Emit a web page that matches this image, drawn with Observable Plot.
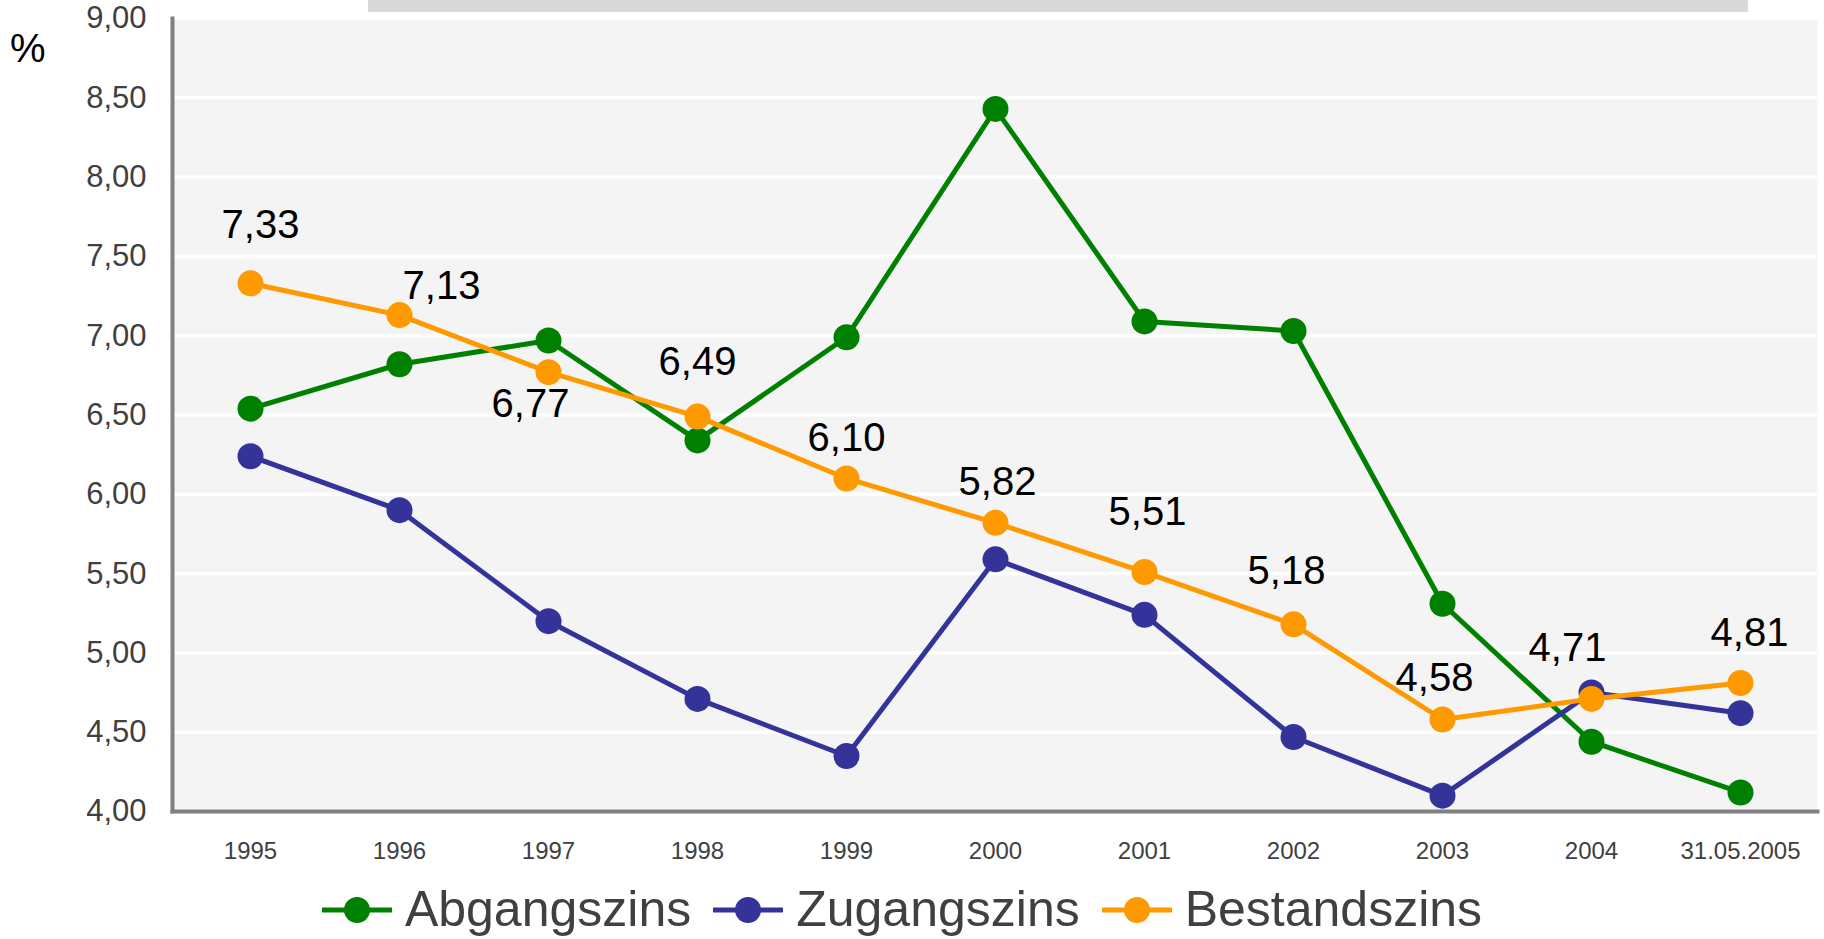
<!DOCTYPE html>
<html>
<head>
<meta charset="utf-8">
<script src="https://cdn.jsdelivr.net/npm/d3@7"></script>
<script src="https://cdn.jsdelivr.net/npm/@observablehq/plot@0.6"></script>
<style>
  html, body { margin: 0; padding: 0; background: #ffffff; }
  body { width: 1824px; height: 939px; position: relative; overflow: hidden; font-family: "Liberation Sans", Arial, sans-serif; }
  #topbar { position: absolute; left: 368px; top: 0; width: 1380px; height: 12px; background: #d9d9d9; }
  #unit { position: absolute; left: 10px; top: 28px; font-size: 40px; color: #000; line-height: 1; }
  #chart svg { display: block; }
  #legend { display: flex; justify-content: center; align-items: center; height: 59px; padding-right: 20px; }
  .item { display: flex; align-items: center; margin: 0 11px; }
  .item span { font-size: 50px; color: #404040; line-height: 59px; margin-left: 13px; }
</style>
</head>
<body>
<div id="chart"></div>
<div id="legend"></div>
<div id="topbar"></div>
<div id="unit">%</div>
<script>
const categories = ["1995","1996","1997","1998","1999","2000","2001","2002","2003","2004","31.05.2005"];
const seriesNames = ["Abgangszins","Zugangszins","Bestandszins"];
const abgangszins = [6.54, 6.82, 6.97, 6.34, 6.99, 8.43, 7.09, 7.03, 5.31, 4.44, 4.12];
const zugangszins = [6.24, 5.90, 5.20, 4.71, 4.35, 5.59, 5.24, 4.47, 4.10, 4.75, 4.62];
const bestandszins = [7.33, 7.13, 6.77, 6.49, 6.10, 5.82, 5.51, 5.18, 4.58, 4.71, 4.81];
const yTicks = [4.0, 4.5, 5.0, 5.5, 6.0, 6.5, 7.0, 7.5, 8.0, 8.5, 9.0];

// layout: manual label nudges (px) for the Bestandszins value labels [dx, dy to baseline]
const labelNudges = [[10,-45],[42,-16],[-18,45],[0,-42],[0,-27],[2,-28],[3,-47],[-7,-40],[-8,-29],[-24,-38],[9,-37]];
const colors = {"Abgangszins": "#008000", "Zugangszins": "#333399", "Bestandszins": "#ff9900"};

const seriesValues = [abgangszins, zugangszins, bestandszins];
const rows = seriesNames.map((name, s) => categories.map((c, i) => ({series: name, cat: c, value: seriesValues[s][i]})));

const fmt = v => v.toFixed(2).replace(".", ",");

const marks = [
  Plot.frame({fill: "#f4f4f4", stroke: null}),
  Plot.gridY(yTicks, {stroke: "#ffffff", strokeWidth: 3.5, strokeOpacity: 1}),
  Plot.axisY(yTicks, {tickSize: 0, tickPadding: 26, tickFormat: fmt, fontSize: 31, fill: "#404040", label: null}),
  Plot.axisX({tickSize: 0, tickPadding: 30, fontSize: 24, fill: "#404040", label: null}),
  Plot.frame({anchor: "left", stroke: "#808080", strokeWidth: 4}),
  Plot.frame({anchor: "bottom", stroke: "#808080", strokeWidth: 4})
];
rows.forEach(data => {
  const col = colors[data[0].series];
  marks.push(Plot.line(data, {x: "cat", y: "value", stroke: col, strokeWidth: 5}));
  marks.push(Plot.dot(data, {x: "cat", y: "value", fill: col, r: 13, stroke: null}));
});
rows[2].forEach((d, i) => {
  marks.push(Plot.text([d], {x: "cat", y: "value", text: t => fmt(t.value), dx: labelNudges[i][0], dy: labelNudges[i][1],
    lineAnchor: "bottom", textAnchor: "middle", fontSize: 40, fill: "#000000"}));
});

const chart = Plot.plot({
  width: 1824,
  height: 880,
  marginTop: 18,
  marginBottom: 69,
  marginLeft: 172,
  marginRight: 7,
  style: {fontFamily: '"Liberation Sans", Arial, sans-serif', background: "transparent", overflow: "visible"},
  x: {type: "point", domain: categories, padding: 0.5},
  y: {domain: [4, 9]},
  marks
});
document.getElementById("chart").appendChild(chart);

const legend = document.getElementById("legend");
seriesNames.forEach(name => {
  const item = document.createElement("div");
  item.className = "item";
  item.innerHTML = `<svg width="70" height="30"><line x1="1" y1="15" x2="69" y2="15" stroke="${colors[name]}" stroke-width="5" stroke-linecap="round"/><circle cx="35" cy="15" r="13" fill="${colors[name]}"/></svg><span>${name}</span>`;
  legend.appendChild(item);
});
</script>
</body>
</html>
